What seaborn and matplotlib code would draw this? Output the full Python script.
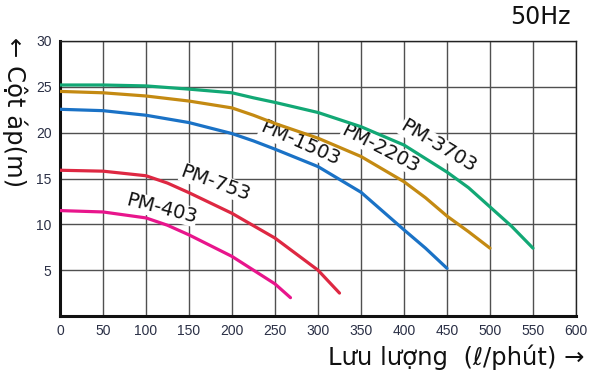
import numpy as np
import pandas as pd
import matplotlib
matplotlib.use("Agg")
import matplotlib.pyplot as plt
import seaborn as sns

# pump curves: flow (l/min) -> head (m)
models = ['PM-3703', 'PM-2203', 'PM-1503', 'PM-753', 'PM-403']

flow_3703 = [0, 50, 100, 150, 200, 225, 250, 300, 350, 400, 450, 475, 500, 525, 550]
head_3703 = [25.2, 25.2, 25.1, 24.75, 24.35, 23.8, 23.3, 22.2, 20.65, 18.65, 15.7, 14.0, 11.9, 9.8, 7.4]

flow_2203 = [0, 50, 100, 150, 200, 225, 250, 300, 350, 400, 425, 450, 475, 500]
head_2203 = [24.5, 24.35, 24.0, 23.45, 22.7, 21.9, 21.0, 19.4, 17.4, 14.65, 12.9, 10.9, 9.2, 7.4]

flow_1503 = [0, 50, 100, 150, 200, 225, 250, 300, 350, 400, 425, 450]
head_1503 = [22.55, 22.4, 21.9, 21.1, 19.9, 19.1, 18.2, 16.3, 13.5, 9.4, 7.4, 5.2]

flow_753 = [0, 50, 100, 125, 150, 200, 250, 300, 325]
head_753 = [15.9, 15.8, 15.3, 14.5, 13.45, 11.2, 8.5, 5.0, 2.5]

flow_403 = [0, 50, 100, 125, 150, 200, 250, 268]
head_403 = [11.5, 11.35, 10.7, 9.9, 8.85, 6.5, 3.5, 2.0]

colors = ['#12a875', '#c48a12', '#1a72c6', '#de2842', '#e8158c']

x_ticks = [0, 50, 100, 150, 200, 250, 300, 350, 400, 450, 500, 550, 600]
y_ticks = [5, 10, 15, 20, 25, 30]

# where the model names sit along the curves
label_x = [440, 373, 279, 181, 118]
label_y = [18.5, 18.3, 18.8, 14.5, 11.7]
label_rot = [-31, -27.5, -24, -20, -14.5]

frames = []
for name, fx, hy in zip(models,
                        [flow_3703, flow_2203, flow_1503, flow_753, flow_403],
                        [head_3703, head_2203, head_1503, head_753, head_403]):
    frames.append(pd.DataFrame({'flow': fx, 'head': hy, 'model': name}))
df = pd.concat(frames, ignore_index=True)

sns.set_style("white")
plt.rcParams['font.family'] = ['DejaVu Sans']

fig = plt.figure(figsize=(6.04, 3.73), dpi=100)
ax = fig.add_axes([60 / 604, 57 / 373, 516 / 604, 275 / 373])

sns.lineplot(data=df, x='flow', y='head', hue='model', hue_order=models,
             palette=colors, linewidth=2.3, legend=False, ax=ax, sort=False,
             zorder=4)

ax.set_xlim(0, 600)
ax.set_ylim(0, 30)
ax.set_xticks(x_ticks)
ax.set_yticks(y_ticks)
ax.grid(True, color='#505050', linewidth=1.0, zorder=0)
ax.set_axisbelow(True)
for s in ['top', 'right']:
    ax.spines[s].set_linewidth(1.0)
    ax.spines[s].set_color('#222222')
for s in ['left', 'bottom']:
    ax.spines[s].set_linewidth(2.2)
    ax.spines[s].set_color('#111111')
ax.tick_params(length=0, pad=6, labelsize=10, labelcolor='#2a2f45')
for lab in ax.get_xticklabels() + ax.get_yticklabels():
    lab.set_family('Liberation Sans')
ax.set_xlabel('')
ax.set_ylabel('')

for name, lx, ly, rot in zip(models, label_x, label_y, label_rot):
    ax.text(lx, ly, name, rotation=rot, rotation_mode='anchor',
            ha='center', va='center', fontsize=14, color='#111111',
            bbox=dict(facecolor='white', edgecolor='none', pad=0.3), zorder=3)

fig.text(584 / 604, 1 - 357 / 373, 'Lưu lượng  (ℓ/phút) →', ha='right',
         va='center', fontsize=17.5, color='#111111')
fig.text(15 / 604, 1 - 112 / 373, '← Cột áp(m)', rotation=270, ha='center',
         va='center', fontsize=17.5, color='#111111')
fig.text(571 / 604, 1 - 17 / 373, '50Hz', ha='right', va='center',
         fontsize=17, color='#111111')

fig.savefig('out.png', dpi=100)
